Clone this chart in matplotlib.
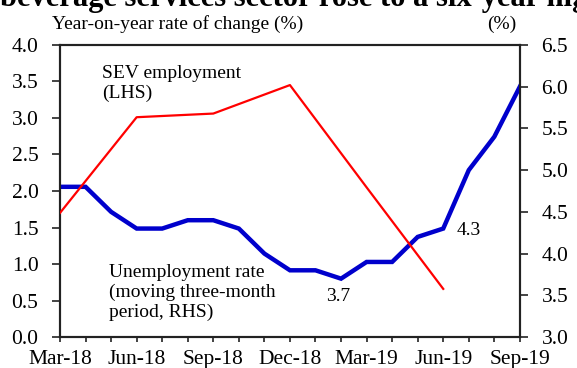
import matplotlib.pyplot as plt
from matplotlib.ticker import MultipleLocator

plt.rcParams['font.family'] = ['Liberation Serif', 'DejaVu Serif']

months = ['Mar-18', 'Apr-18', 'May-18', 'Jun-18', 'Jul-18', 'Aug-18', 'Sep-18',
          'Oct-18', 'Nov-18', 'Dec-18', 'Jan-19', 'Feb-19', 'Mar-19', 'Apr-19',
          'May-19', 'Jun-19', 'Jul-19', 'Aug-19', 'Sep-19']
tick_labels = ['Mar-18', 'Jun-18', 'Sep-18', 'Dec-18', 'Mar-19', 'Jun-19', 'Sep-19']

# quarterly SEV employment, y-o-y % (left axis)
sev_months = ['Mar-18', 'Jun-18', 'Sep-18', 'Dec-18', 'Mar-19', 'Jun-19']
sev_employment = [1.70, 3.01, 3.06, 3.45, 2.05, 0.66]

# unemployment rate, moving three-month period (right axis)
unemployment = [4.8, 4.8, 4.5, 4.3, 4.3, 4.4, 4.4, 4.3, 4.0, 3.8,
                3.8, 3.7, 3.9, 3.9, 4.2, 4.3, 5.0, 5.4, 6.0]

x_all = list(range(len(months)))
x_sev = [months.index(m) for m in sev_months]

fig = plt.figure(figsize=(5.77, 3.68), dpi=100)
ax = fig.add_axes([0.104, 0.084, 0.797, 0.794])
ax2 = ax.twinx()

ax.plot(x_sev, sev_employment, color='#ff0000', lw=1.6, zorder=3)
ax2.plot(x_all, unemployment, color='#0000cc', lw=3.2, solid_joinstyle='miter')
ax.set_zorder(ax2.get_zorder() + 1)
ax.patch.set_visible(False)

ax.set_xlim(0, 18)
ax.set_ylim(0, 4.0)
ax2.set_ylim(3.0, 6.5)
ax.set_xticks([months.index(m) for m in tick_labels])
ax.set_xticklabels(tick_labels)
ax.xaxis.set_minor_locator(MultipleLocator(1))
ax.yaxis.set_major_locator(MultipleLocator(0.5))
ax2.yaxis.set_major_locator(MultipleLocator(0.5))
ax.yaxis.set_major_formatter(lambda v, p: f'{v:.1f}')
ax2.yaxis.set_major_formatter(lambda v, p: f'{v:.1f}')

for a in (ax, ax2):
    for s in a.spines.values():
        s.set_linewidth(1.5)
        s.set_color('#222222')
    a.tick_params(which='both', direction='out', width=1.2, color='#222222',
                  labelsize=15.5)
    a.tick_params(axis='y', which='major', length=5.5, pad=10)
ax.tick_params(axis='x', which='both', length=3.5, pad=5.5)

ax.text(1.65, 3.72, 'SEV employment\n(LHS)', fontsize=14, va='top', linespacing=1.2)
ax2.text(1.9, 3.88, 'Unemployment rate\n(moving three-month\nperiod, RHS)',
         fontsize=14, va='top', linespacing=1.2)
ax2.text(10.9, 3.49, '3.7', fontsize=14, ha='center', va='center')
ax2.text(16.0, 4.28, '4.3', fontsize=14, ha='center', va='center')

fig.text(0.09, 0.935, 'Year-on-year rate of change (%)', fontsize=14, va='center')
fig.text(0.845, 0.935, '(%)', fontsize=14, va='center')
fig.text(0.0, 0.984, 'beverage services sector rose to a six-year high',
         fontsize=22, fontweight='bold', va='baseline')

fig.savefig('out.png', dpi=100)
